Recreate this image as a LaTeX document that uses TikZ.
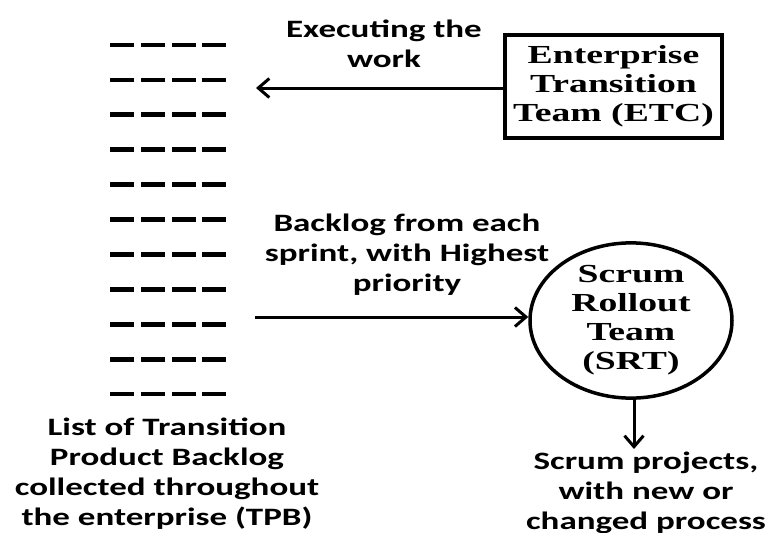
\documentclass[tikz,border=0pt]{standalone}
\usepackage{fontspec}
\setmainfont{Liberation Serif}[FakeStretch=1.45]
\newfontfamily\labelfont{Carlito}[FakeStretch=1.4]
\usetikzlibrary{arrows.meta,shapes.geometric}

\tikzset{
  caption/.style={font=\labelfont\bfseries\fontsize{25}{30}\selectfont, align=center, inner sep=0pt},
  teamtext/.style={font=\bfseries\fontsize{26}{29}\selectfont, align=center},
  teambox/.style={draw, line width=3.5pt, rectangle, minimum width=217pt, minimum height=103pt, inner sep=0pt, teamtext},
  teamoval/.style={draw, line width=3.5pt, ellipse, minimum width=202pt, minimum height=130pt, inner sep=0pt, teamtext},
  flow/.style={line width=3pt, -{Straight Barb[length=11pt,width=19pt,line width=3pt]}},
  listdash/.style={line width=4.8pt}
}

\begin{document}
\begin{tikzpicture}[x=1pt,y=-1pt]
  \useasboundingbox (0,0) rectangle (772,533);

  % transition product backlog: eleven rows of four dashes
  \foreach \r in {0,...,10}{
    \foreach \c in {110,141,172,202}{
      \draw[listdash] (\c,{45+34.9*\r}) -- ++(24,0);
    }
  }

  % teams
  \node[teambox] (etc) at (613.5,86.5) {Enterprise\\Transition\\Team (ETC)};
  \node[teamoval] (srt) at (631,320.5) {Scrum\\Rollout\\Team\\(SRT)};

  % arrow end points at the backlog list and the projects
  \coordinate (listtop) at (256,88);
  \coordinate (listmid) at (255,317);
  \coordinate (projtop) at (634,449);

  \draw[flow] (etc.west |- listtop) -- (listtop);
  \draw[flow] (listmid) -- (srt.west |- listmid);
  \draw[flow] (srt.south -| projtop) -- (projtop);

  % captions
  \node[caption] (exec) at (384,44) {Executing the\\work};
  \node[caption] (sprint) at (407,255) {Backlog from each\\sprint, with Highest\\priority};
  \node[caption] (tpb) at (167,474) {List of Transition\\Product Backlog\\collected throughout\\the enterprise (TPB)};
  \node[caption] (proj) at (646,493) {Scrum projects,\\with new or\\changed process};
\end{tikzpicture}
\end{document}
